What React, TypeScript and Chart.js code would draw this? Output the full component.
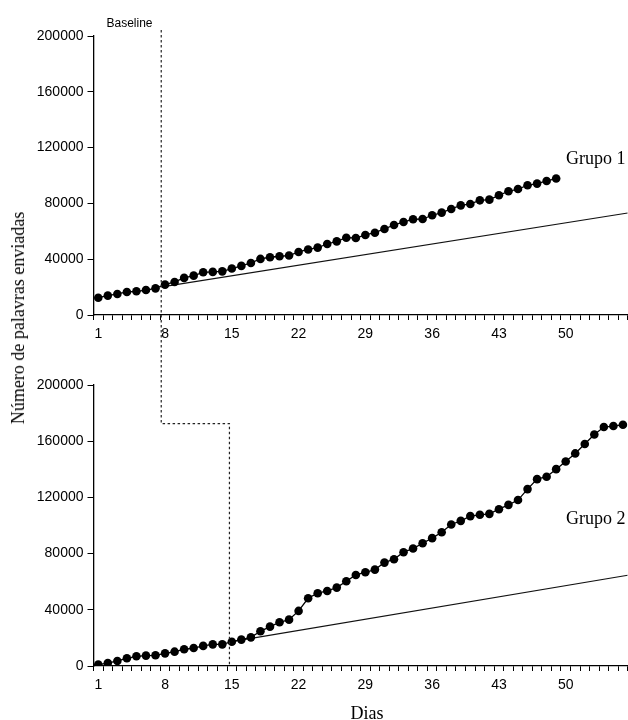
import React, { useEffect, useRef } from "react";
import { Chart, registerables } from "chart.js";

Chart.register(...registerables);

// ---- data ----
const days = [
  1, 2, 3, 4, 5, 6, 7, 8, 9, 10, 11, 12, 13, 14, 15, 16, 17, 18, 19, 20,
  21, 22, 23, 24, 25, 26, 27, 28, 29, 30, 31, 32, 33, 34, 35, 36, 37, 38, 39, 40,
  41, 42, 43, 44, 45, 46, 47, 48, 49, 50, 51, 52, 53, 54, 55, 56,
];
const labeledDays = [1, 8, 15, 22, 29, 36, 43, 50];
const yTicks = [0, 40000, 80000, 120000, 160000, 200000];

const group1Values = [
  12400, 13900, 15100, 16500, 17000, 17900, 19100, 21800, 23700, 26600,
  28200, 30600, 30900, 31300, 33300, 35200, 37300, 40200, 41400, 42100,
  42600, 45200, 47000, 48300, 50900, 52800, 55400, 55200, 57400, 59000,
  61700, 64500, 66700, 68600, 68800, 71500, 73400, 76000, 78600, 79600,
  82200, 82700, 85800, 88700, 90300, 93000, 94200, 96100, 97800,
];
const group2Values = [
  1000, 2100, 3600, 5500, 6900, 7400, 7600, 9000, 10200, 11900,
  12800, 14300, 15400, 15400, 17300, 18800, 20400, 24700, 28000, 31100,
  33000, 39200, 48200, 51800, 53400, 55800, 60300, 64800, 66700, 68600,
  73600, 76000, 81000, 83600, 87400, 91000, 95200, 100700, 103300, 106700,
  107600, 108300, 111600, 114700, 118100, 125900, 133000, 134700, 140100, 145600,
  151300, 158000, 164800, 170100, 170800, 171700,
];
const trend1Days = [8, 56.5];
const trend1Values = [20500, 73100];
const trend2Days = [15, 56.5];
const trend2Values = [17300, 64600];
const phaseDays = [7.6, 14.75];
const phaseLevel = [172500];

const SANS = "'Liberation Sans', Arial, sans-serif";
const SERIF = "'Liberation Serif', 'Times New Roman', serif";

type PanelProps = {
  values: number[];
  trendDays: number[];
  trendValues: number[];
  padTop: number;
  xAxisHeight: number;
  bottomPanel: boolean;
};

function Panel({ values, trendDays, trendValues, padTop, xAxisHeight, bottomPanel }: PanelProps) {
  const ref = useRef<HTMLCanvasElement | null>(null);
  useEffect(() => {
    if (!ref.current) return;
    const phasePlugin = {
      id: "phase",
      afterDraw(chart: any) {
        const ctx = chart.ctx;
        const xs = chart.scales.x;
        const ys = chart.scales.y;
        const area = chart.chartArea;
        ctx.save();
        ctx.strokeStyle = "#222";
        ctx.lineWidth = 1.2;
        ctx.setLineDash([2.5, 2.5]);
        ctx.beginPath();
        const x1 = xs.getPixelForValue(phaseDays[0]);
        if (!bottomPanel) {
          ctx.moveTo(x1, area.top - 6);
          ctx.lineTo(x1, chart.height);
        } else {
          const x2 = xs.getPixelForValue(phaseDays[1]);
          const yl = ys.getPixelForValue(phaseLevel[0]);
          ctx.moveTo(x1, 0);
          ctx.lineTo(x1, yl);
          ctx.lineTo(x2, yl);
          ctx.lineTo(x2, area.bottom);
        }
        ctx.stroke();
        ctx.restore();
      },
    };
    const chart = new Chart(ref.current, {
      type: "line",
      data: {
        datasets: [
          {
            data: values.map((v, i) => ({ x: days[i], y: v })),
            borderColor: "#000",
            borderWidth: 1.3,
            pointRadius: 4.3,
            pointBackgroundColor: "#000",
            pointBorderColor: "#000",
            pointBorderWidth: 0,
            tension: 0,
          },
          {
            data: trendDays.map((d, i) => ({ x: d, y: trendValues[i] })),
            borderColor: "#111",
            borderWidth: 1.2,
            pointRadius: 0,
            tension: 0,
          },
        ],
      },
      options: {
        animation: false,
        responsive: true,
        maintainAspectRatio: false,
        layout: { padding: { top: padTop, left: 0, right: 0, bottom: 0 } },
        plugins: { legend: { display: false }, tooltip: { enabled: false } },
        scales: {
          x: {
            type: "linear",
            min: 0.5,
            max: 56.5,
            afterBuildTicks: (s: any) => {
              s.ticks = days.map((v) => ({ value: v }));
            },
            afterFit: (s: any) => {
              s.height = xAxisHeight;
            },
            grid: {
              offset: true,
              drawOnChartArea: false,
              drawTicks: true,
              tickLength: 5,
              color: "#000",
              lineWidth: 1,
            },
            border: { display: true, color: "#000", width: 1.3 },
            ticks: {
              autoSkip: false,
              maxRotation: 0,
              padding: 6,
              color: "#000",
              font: { family: SANS, size: 14 },
              callback: (v: any) => (labeledDays.includes(Number(v)) ? String(v) : ""),
            },
          },
          y: {
            type: "linear",
            min: 0,
            max: 200000,
            afterBuildTicks: (s: any) => {
              s.ticks = yTicks.map((v) => ({ value: v }));
            },
            afterFit: (s: any) => {
              s.width = 93.5;
            },
            grid: { drawOnChartArea: false, tickLength: 6, color: "#000", lineWidth: 1 },
            border: { display: true, color: "#000", width: 1.3 },
            ticks: {
              padding: 4,
              color: "#000",
              font: { family: SANS, size: 14 },
              callback: (v: any) => String(v),
            },
          },
        },
      },
      plugins: [phasePlugin],
    } as any);
    return () => chart.destroy();
  }, []);
  return <canvas ref={ref} />;
}

export default function App() {
  const abs = (extra: React.CSSProperties): React.CSSProperties => ({
    position: "absolute",
    whiteSpace: "nowrap",
    lineHeight: 1,
    ...extra,
  });
  return (
    <div
      style={{
        position: "fixed",
        left: 0,
        top: 0,
        width: 628,
        height: 720,
        background: "#fff",
        overflow: "hidden",
      }}
    >
      <div style={{ position: "absolute", left: 0, top: 0, width: 632, height: 355 }}>
        <Panel
          values={group1Values}
          trendDays={trend1Days}
          trendValues={trend1Values}
          padTop={36}
          xAxisHeight={40}
          bottomPanel={false}
        />
      </div>
      <div style={{ position: "absolute", left: 0, top: 355, width: 632, height: 365 }}>
        <Panel
          values={group2Values}
          trendDays={trend2Days}
          trendValues={trend2Values}
          padTop={30}
          xAxisHeight={54}
          bottomPanel={true}
        />
      </div>
      <div
        style={abs({
          left: 129.5,
          top: 23,
          transform: "translate(-50%, -50%)",
          fontFamily: SANS,
          fontSize: 12,
          color: "#000",
        })}
      >
        Baseline
      </div>
      <div style={abs({ left: 566, top: 158, transform: "translateY(-50%)", fontFamily: SERIF, fontSize: 18 })}>
        Grupo 1
      </div>
      <div style={abs({ left: 566, top: 518, transform: "translateY(-50%)", fontFamily: SERIF, fontSize: 18 })}>
        Grupo 2
      </div>
      <div
        style={abs({
          left: 367,
          top: 713,
          transform: "translate(-50%, -50%)",
          fontFamily: SERIF,
          fontSize: 18,
        })}
      >
        Dias
      </div>
      <div
        style={abs({
          left: 17.5,
          top: 318,
          transform: "translate(-50%, -50%) rotate(-90deg)",
          fontFamily: SERIF,
          fontSize: 18,
        })}
      >
        Número de palavras enviadas
      </div>
    </div>
  );
}
